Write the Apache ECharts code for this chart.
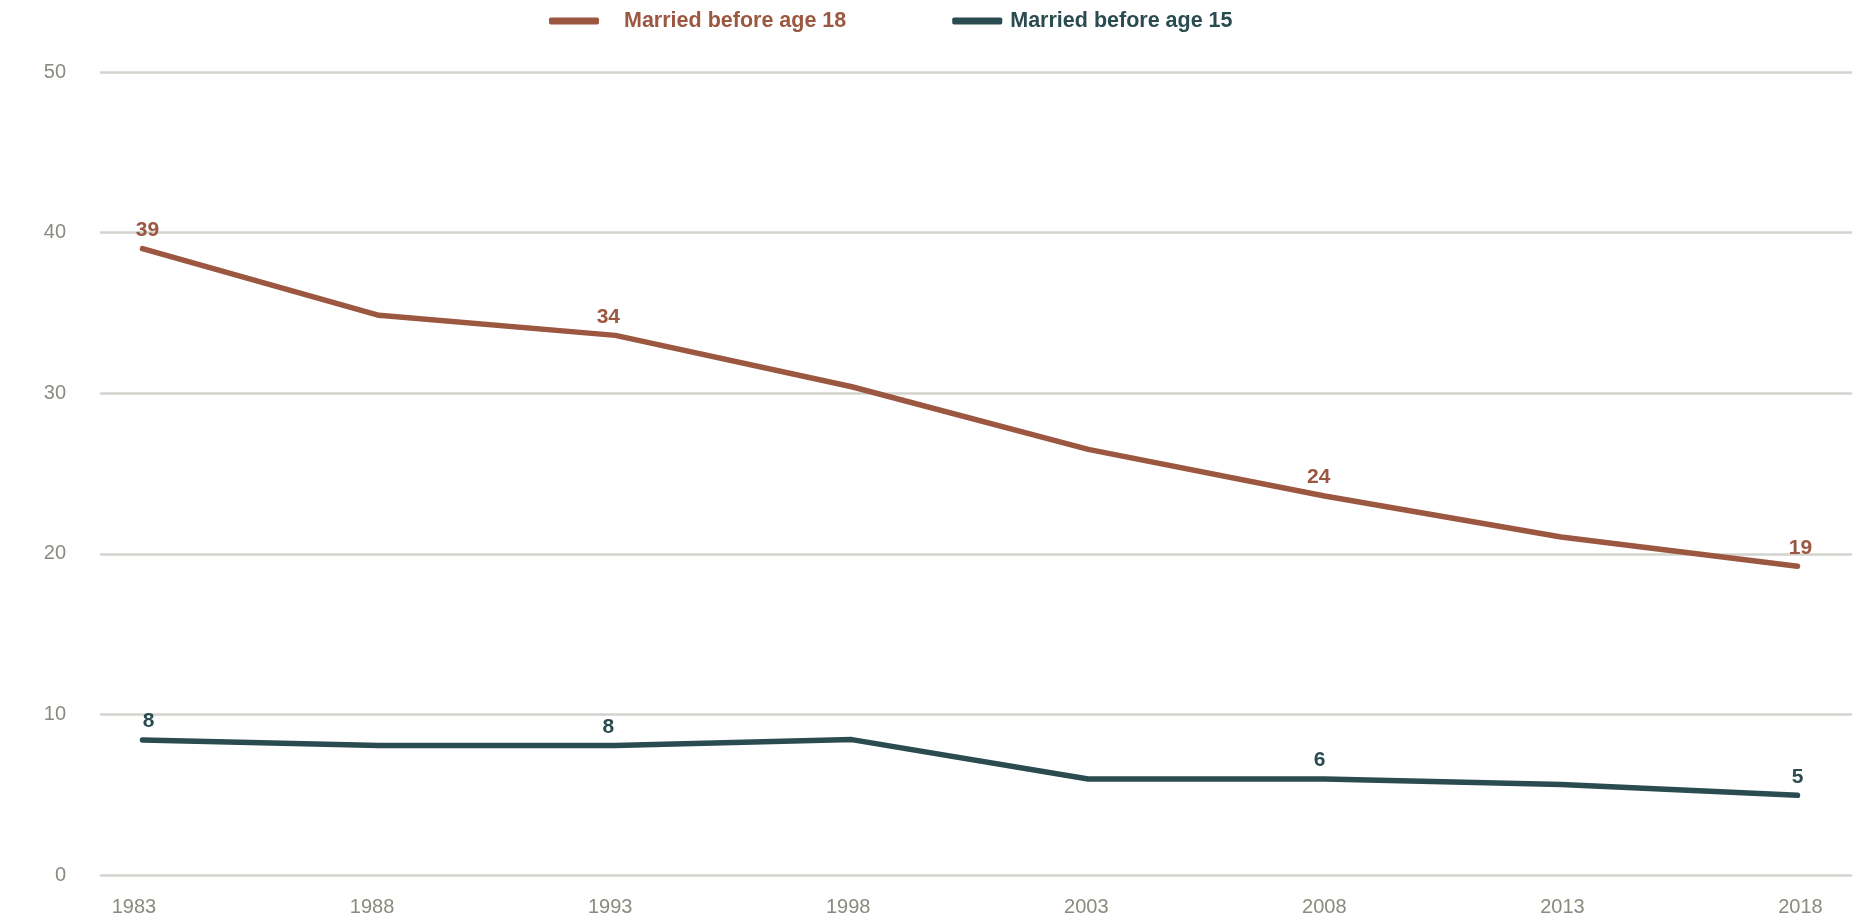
<!DOCTYPE html>
<html>
<head>
<meta charset="utf-8">
<script src="https://cdn.jsdelivr.net/npm/echarts@6/dist/echarts.min.js"></script>
<style>
  html, body { margin: 0; padding: 0; background: #fff; }
  #chart { width: 1876px; height: 923px; }
</style>
</head>
<body>
<div id="chart"></div>
<script>
const years = [1983, 1988, 1993, 1998, 2003, 2008, 2013, 2018]
const before18 = [39.0, 34.85, 33.6, 30.4, 26.5, 23.6, 21.05, 19.22]
const before15 = [8.4, 8.07, 8.07, 8.43, 5.98, 5.98, 5.64, 4.96]
const labelledIdx = [0, 2, 5, 7]

const brown = '#9c5741'
const teal = '#2a4b50'
const gray = '#8a8a7f'
const font = "'Liberation Sans', Arial, sans-serif"

// small horizontal nudges of the value labels, as in the original
const nudge18 = [5, -7, -6, 3]
const nudge15 = [6, -7, -5, 0]

function lineSeries(name, values, color, nudge) {
  return {
    name: name,
    type: 'line',
    xAxisIndex: 0,
    data: values.map((v, i) => {
      const k = labelledIdx.indexOf(i)
      const item = { value: [years[i], v] }
      if (k >= 0) {
        item.label = { show: true, offset: [nudge[k], 0] }
      }
      return item
    }),
    symbol: 'circle',
    symbolSize: 0,
    showAllSymbol: true,
    lineStyle: { color: color, width: 5.5, cap: 'round', join: 'round' },
    itemStyle: { color: color },
    label: {
      show: false,
      position: 'top',
      distance: 8,
      color: color,
      fontFamily: font,
      fontWeight: 'bold',
      fontSize: 21,
      formatter: p => Math.round(p.value[1])
    },
    emphasis: { disabled: true }
  }
}

const chart = echarts.init(document.getElementById('chart'))
chart.setOption({
  animation: false,
  legend: {
    left: 549,
    top: 10,
    padding: 0,
    itemWidth: 50,
    itemHeight: 7,
    itemGap: 106,
    icon: 'roundRect',
    data: [
      { name: 'Married before age 18', textStyle: { color: brown, padding: [0, 0, 0, 20] } },
      { name: 'Married before age 15', textStyle: { color: teal, padding: [0, 0, 0, 3] } }
    ],
    textStyle: {
      fontFamily: font,
      fontWeight: 'bold',
      fontSize: 21.5
    }
  },
  grid: { left: 100, right: 24, top: 72, bottom: 48 },
  xAxis: [{
    type: 'value',
    min: 1982.101,
    max: 2019.153,
    axisLine: { show: false },
    axisTick: { show: false },
    axisLabel: { show: false },
    splitLine: { show: false }
  }, {
    // year labels sit slightly off the data points in the original
    type: 'value',
    position: 'bottom',
    min: 1982.286,
    max: 2019.082,
    axisLine: { show: false },
    axisTick: { show: false },
    splitLine: { show: false },
    axisLabel: {
      customValues: years,
      formatter: v => String(v),
      margin: 22,
      color: gray,
      fontFamily: font,
      fontSize: 20
    }
  }],
  yAxis: {
    type: 'value',
    min: 0,
    max: 50,
    interval: 10,
    axisLine: { show: false },
    axisTick: { show: false },
    axisLabel: {
      margin: 34,
      color: gray,
      fontFamily: font,
      fontSize: 20,
      padding: [0, 0, 6, 0]
    },
    splitLine: { lineStyle: { color: '#d3d3ce', width: 2.5 } }
  },
  series: [
    lineSeries('Married before age 18', before18, brown, nudge18),
    lineSeries('Married before age 15', before15, teal, nudge15)
  ]
})
</script>
</body>
</html>
